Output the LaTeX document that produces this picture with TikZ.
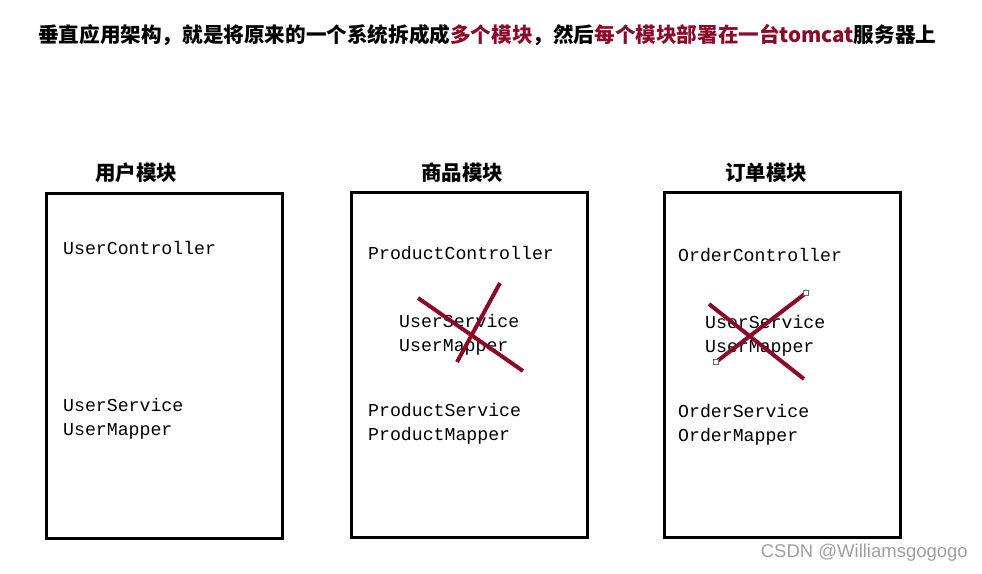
\documentclass[tikz,border=0pt]{standalone}
\usepackage{fontspec}
\setmainfont{Liberation Serif}
\newfontfamily\cjk{Noto Sans CJK SC}
\newfontfamily\codefont{Liberation Mono}
\newfontfamily\markfont{Liberation Sans}
\usetikzlibrary{positioning}
\definecolor{DarkRed}{HTML}{8B0A2A}
\definecolor{MarkGray}{HTML}{A0A0A0}

\begin{document}
\begin{tikzpicture}[x=1pt, y=-1pt,
  modbox/.style={draw=black, line width=3pt, minimum width=236pt, minimum height=345pt, inner sep=0pt},
  modtitle/.style={font=\cjk\bfseries\fontsize{20.5}{24}\selectfont, inner sep=0pt},
  codeline/.style={font=\codefont\fontsize{18.2}{21}\selectfont, anchor=west, inner sep=0pt},
  crossline/.style={draw=DarkRed, line width=4pt},
  handle/.style={draw=gray!80!black, fill=white, line width=0.8pt, minimum size=5pt, inner sep=0pt}]
\useasboundingbox[fill=white] (0,0) rectangle (982,573);

% title line
\node[anchor=west, inner sep=0pt, font=\cjk\bfseries\fontsize{20.6}{24}\selectfont] (title) at (38,35)
  {垂直应用架构，就是将原来的一个系统拆成成\textcolor{DarkRed}{多个模块}，然后\textcolor{DarkRed}{每个模块部署在一台tomcat}服务器上};

% the three modules
\node[modbox] (user) at (164,365.5) {};
\node[modbox] (product) at (469,365) {};
\node[modbox] (order) at (782,365) {};

\node[modtitle] (usertitle) at (136,173) {用户模块};
\node[modtitle] (producttitle) at (462,173) {商品模块};
\node[modtitle] (ordertitle) at (766,173) {订单模块};

% user module
\node[codeline] (userctl) at (63,248) {UserController};
\node[codeline] (usersvc) at (63,405) {UserService};
\node[codeline] (usermap) at (63,431) {UserMapper};

% product module
\node[codeline] (productctl) at (368,253) {ProductController};
\node[codeline] (pusersvc) at (399,321) {UserService};
\node[codeline] (pusermap) at (399,347) {UserMapper};
\node[codeline] (productsvc) at (368,410) {ProductService};
\node[codeline] (productmap) at (368,436) {ProductMapper};

% order module
\node[codeline] (orderctl) at (678,255) {OrderController};
\node[codeline] (ousersvc) at (705,322) {UserService};
\node[codeline] (ousermap) at (705,348) {UserMapper};
\node[codeline] (ordersvc) at (678,411) {OrderService};
\node[codeline] (ordermap) at (678,437) {OrderMapper};

% crosses over the copied user code
\draw[crossline] (418,298) -- (523,371);
\draw[crossline] (500,283) -- (457,362);
\draw[crossline] (709,304) -- (804,379);
\draw[crossline] (806,293) -- (716,362);
\node[handle] (handleA) at (806,293) {};
\node[handle] (handleB) at (716,362) {};

\node[anchor=east, inner sep=0pt, text=MarkGray, font=\markfont\fontsize{18.5}{22}\selectfont] (mark) at (968,553) {CSDN @Williamsgogogo};
\end{tikzpicture}
\end{document}
